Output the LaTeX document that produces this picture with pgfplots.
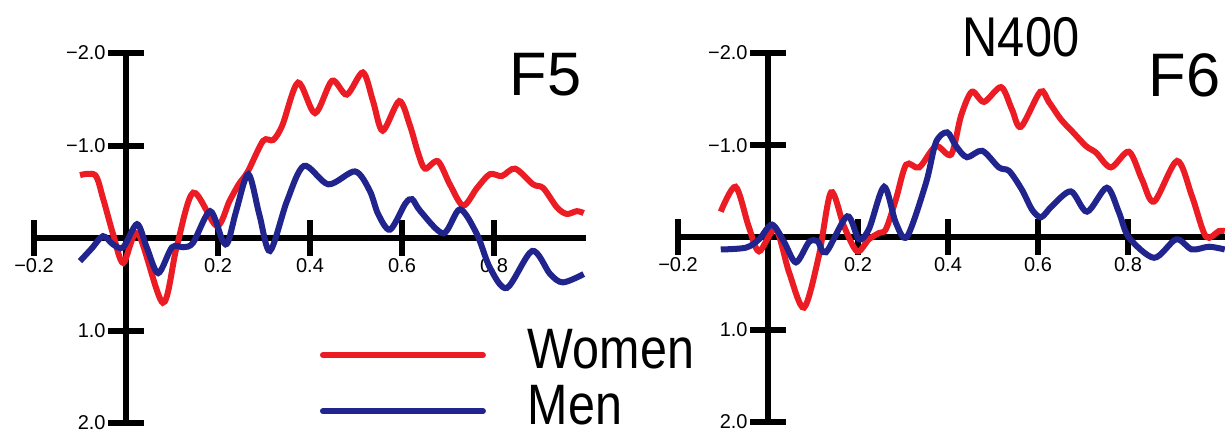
\documentclass[border=0pt]{standalone}
\usepackage{fontspec}
\setmainfont{Liberation Sans}
\usepackage{pgfplots}
\pgfplotsset{compat=1.18}

\definecolor{womenred}{RGB}{236,28,36}
\definecolor{menblue}{RGB}{32,36,140}

\pgfplotsset{
  erp/.style={
    scale only axis,
    axis lines=middle,
    axis line style={-, line width=3pt, black},
    y dir=reverse,
    ymin=-2, ymax=2,
    xmin=-0.2,
    xtick={-0.2,0.2,0.4,0.6,0.8},
    xticklabels={−0.2,0.2,0.4,0.6,0.8},
    ytick={-2,-1,1,2},
    yticklabels={−2.0,−1.0,1.0,2.0},
    tick align=center,
    major tick length=18pt,
    tick style={line width=3pt, black},
    ticklabel style={font=\fontsize{10}{10}\selectfont, inner sep=0pt},
    xticklabel style={anchor=north, yshift=-1pt},
    yticklabel style={anchor=east, xshift=-1pt},
    clip=false,
  },
  women/.style={womenred, line width=3pt, smooth, tension=0.5, no marks},
  men/.style={menblue, line width=3pt, smooth, tension=0.5, no marks},
}

\begin{document}
\begin{tikzpicture}
\path[use as bounding box] (0,0) rectangle (612.5pt,216pt);

% F5
\begin{axis}[erp, at={(17pt,4.5pt)}, anchor=south west,
    width=276pt, height=185pt, xmax=1.0,
    legend image code/.code={\draw[#1, line cap=round] (0pt,6.5pt) -- (80pt,6.5pt);},
    legend style={at={(axis description cs:0.518,0.262)}, anchor=north west,
      draw=none, fill=none, inner sep=0pt, outer sep=0pt,
      row sep=7pt, column sep=21pt,
      font=\fontsize{28.5}{28.5}\selectfont,
      nodes={inner sep=0pt, anchor=base west, text height=21pt, text depth=0pt, xscale=0.85}},
  ]
\addplot[women] coordinates {
(-0.100,-0.68) (-0.067,-0.68) (-0.050,-0.43) (-0.028,-0.04) (-0.006,0.27)
(0.026,-0.05) (0.080,0.70) (0.110,0.10) (0.146,-0.49) (0.197,-0.13)
(0.225,-0.40) (0.245,-0.58) (0.265,-0.72) (0.298,-1.05) (0.320,-1.06)
(0.340,-1.22) (0.374,-1.68) (0.411,-1.35) (0.448,-1.70) (0.480,-1.55)
(0.515,-1.79) (0.537,-1.48) (0.558,-1.16) (0.594,-1.48) (0.617,-1.22)
(0.635,-0.92) (0.650,-0.75) (0.678,-0.83) (0.704,-0.58) (0.733,-0.35)
(0.763,-0.54) (0.791,-0.69) (0.817,-0.67) (0.846,-0.75) (0.885,-0.58)
(0.907,-0.54) (0.937,-0.33) (0.958,-0.26) (0.980,-0.29) (0.995,-0.27)
};
\addlegendentry{Women}
\addplot[men] coordinates {
(-0.100,0.25) (-0.074,0.11) (-0.050,-0.02) (-0.028,0.07) (-0.006,0.10)
(0.024,-0.15) (0.045,0.10) (0.070,0.38) (0.100,0.10) (0.125,0.10)
(0.146,0.05) (0.183,-0.29) (0.210,0.03) (0.222,0.04) (0.240,-0.30)
(0.266,-0.69) (0.290,-0.25) (0.313,0.14) (0.350,-0.40) (0.387,-0.78)
(0.440,-0.58) (0.498,-0.72) (0.530,-0.51) (0.548,-0.26) (0.574,-0.09)
(0.607,-0.37) (0.622,-0.42) (0.640,-0.29) (0.690,-0.05) (0.726,-0.31)
(0.763,-0.04) (0.791,0.32) (0.828,0.54) (0.883,0.14) (0.922,0.39)
(0.950,0.48) (0.995,0.39)
};
\addlegendentry{Men}
\end{axis}

% F6
\begin{axis}[erp, at={(339pt,5pt)}, anchor=south west,
    width=274.5pt, height=184.5pt, xmax=1.02]
\addplot[women] coordinates {
(-0.105,-0.28) (-0.072,-0.55) (-0.043,-0.12) (-0.020,0.15) (0.017,-0.09)
(0.047,0.38) (0.080,0.76) (0.113,0.20) (0.140,-0.49) (0.169,-0.12)
(0.198,0.15) (0.224,0.02) (0.247,-0.05) (0.262,-0.09) (0.284,-0.41)
(0.307,-0.79) (0.336,-0.76) (0.373,-0.99) (0.407,-0.90) (0.429,-1.32)
(0.453,-1.58) (0.480,-1.47) (0.518,-1.63) (0.542,-1.39) (0.562,-1.20)
(0.605,-1.58) (0.624,-1.47) (0.651,-1.28) (0.676,-1.15) (0.707,-0.99)
(0.729,-0.92) (0.762,-0.76) (0.802,-0.93) (0.831,-0.63) (0.858,-0.39)
(0.909,-0.83) (0.942,-0.45) (0.973,-0.01) (1.002,-0.07) (1.015,-0.07)
};
\addplot[men] coordinates {
(-0.105,0.13) (-0.049,0.11) (-0.020,0.02) (0.009,-0.14) (0.036,0.05)
(0.062,0.27) (0.091,0.05) (0.110,0.04) (0.129,0.16) (0.176,-0.23)
(0.202,0.02) (0.225,-0.10) (0.258,-0.55) (0.284,-0.16) (0.309,-0.01)
(0.351,-0.59) (0.373,-1.03) (0.398,-1.14) (0.418,-0.99) (0.442,-0.87)
(0.476,-0.94) (0.513,-0.76) (0.536,-0.72) (0.564,-0.52) (0.587,-0.30)
(0.607,-0.22) (0.631,-0.34) (0.673,-0.50) (0.709,-0.28) (0.753,-0.54)
(0.780,-0.27) (0.802,0.00) (0.858,0.22) (0.907,0.02) (0.942,0.13)
(0.980,0.10) (1.015,0.13)
};
\end{axis}

\node[anchor=base, inner sep=0pt, font=\fontsize{30.7}{31}\selectfont] at (272.75pt,168pt) {F5};
\node[anchor=base, inner sep=0pt, font=\fontsize{30.7}{31}\selectfont] at (592.25pt,167.5pt) {F6};
\node[anchor=base, inner sep=0pt, xscale=0.87, font=\fontsize{28}{28}\selectfont] at (510.5pt,187.5pt) {N400};
\end{tikzpicture}
\end{document}
